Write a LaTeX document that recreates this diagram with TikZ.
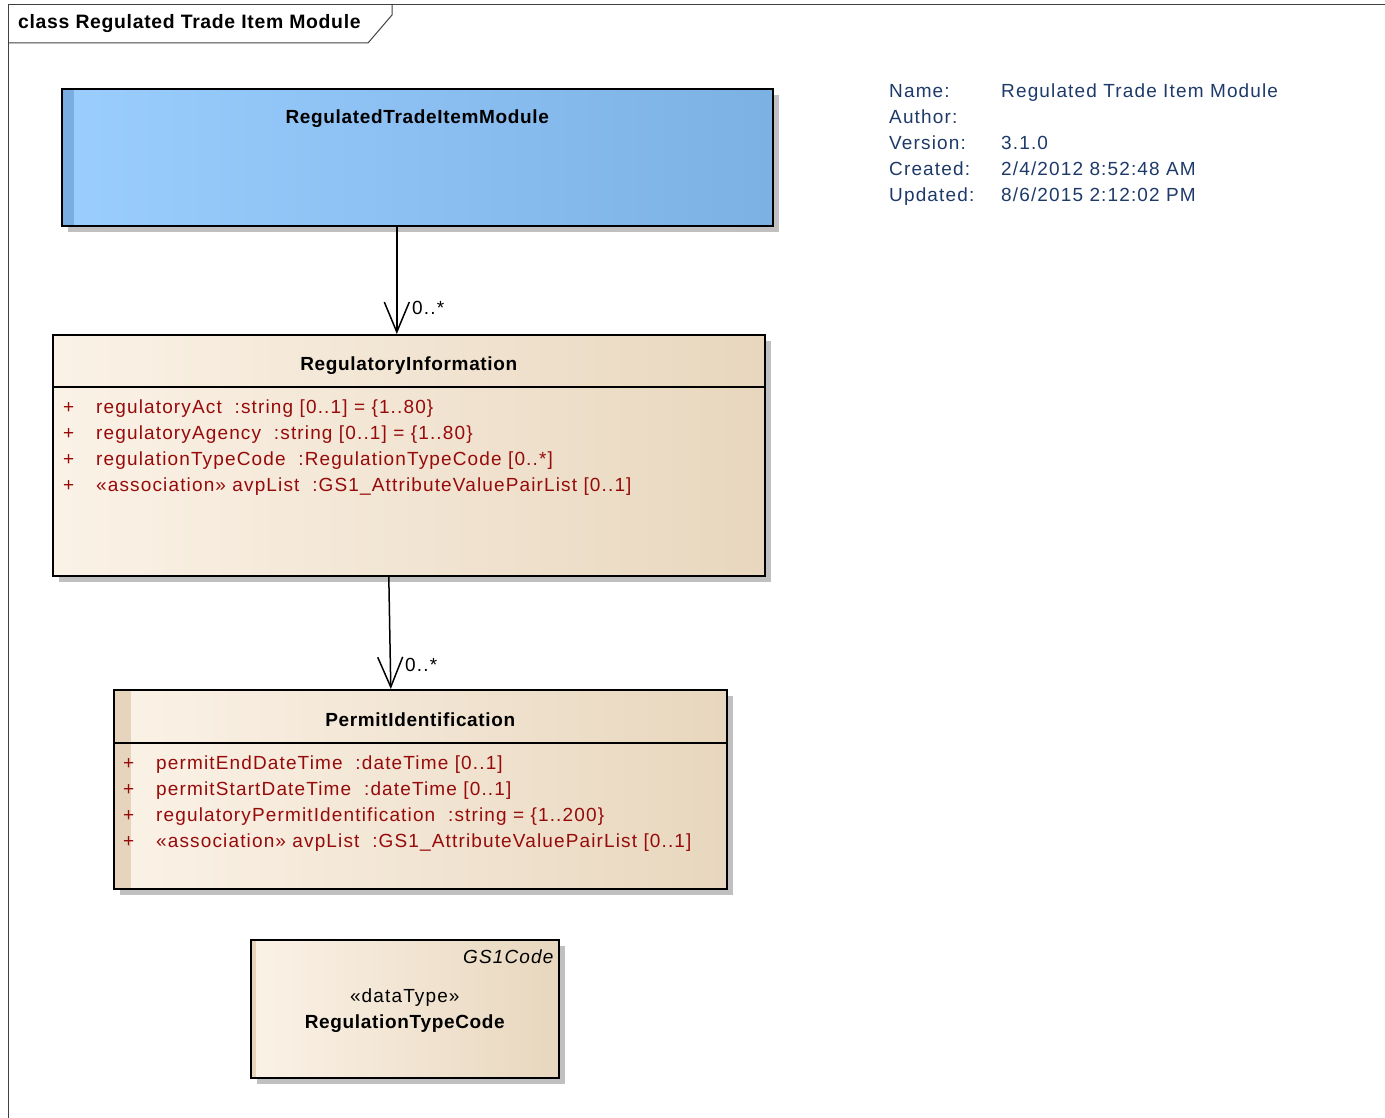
\documentclass[tikz,border=0pt]{standalone}
\usepackage{fontspec}
\setmainfont{Liberation Sans}[LetterSpace=6, BoldFeatures={LetterSpace=3.5}]
\usepackage{xcolor}
\usepackage{tikz}
\usetikzlibrary{arrows.meta, positioning, shadows}

\definecolor{beigeL}{RGB}{251,242,231}
\definecolor{beigeR}{RGB}{232,215,190}
\definecolor{beigeStripe}{RGB}{230,213,188}
\definecolor{blueL}{RGB}{155,206,255}
\definecolor{blueR}{RGB}{124,177,228}
\definecolor{blueStripe}{RGB}{122,174,226}
\definecolor{shadowgray}{RGB}{192,192,192}
\definecolor{attrred}{RGB}{150,10,10}
\definecolor{metablue}{RGB}{30,58,104}

\begin{document}
\begin{tikzpicture}[
    x=1pt, y=-1pt,
    font=\fontsize{19}{26}\selectfont,
    umlclass/.style={rectangle, draw=black, line width=1.6pt, inner sep=0pt, anchor=north west,
        drop shadow={shadow xshift=6pt, shadow yshift=-6pt, fill=shadowgray, opacity=1}},
    stripe/.style 2 args={path picture={\fill[#1] (path picture bounding box.north west) rectangle ([xshift=#2]path picture bounding box.south west);}},
    beigebox/.style={umlclass, left color=beigeL, right color=beigeR},
    modulebox/.style={umlclass, left color=blueL, right color=blueR, stripe={blueStripe}{12pt}},
    title/.style={font=\fontsize{19}{26}\selectfont\bfseries, anchor=base, inner sep=0pt},
    attr/.style={text=attrred, anchor=base west, inner sep=0pt},
    meta/.style={text=metablue, anchor=base west, inner sep=0pt},
    mult/.style={anchor=base west, inner sep=0pt},
    compart/.style={line width=1.6pt},
    assoc/.style={draw, line width=1.5pt, -{Straight Barb[length=30pt, width=25pt]}}
]
    \useasboundingbox (0,0) rectangle (1385,1118);

    % diagram frame
    \draw[black!75, line width=1pt] (8,1118) -- (8,5) -- (1385,5);
    \draw[black!75, line width=1pt] (392,5) -- (392,15) -- (368,43) -- (8,43);
    \node[title, anchor=base west, font=\fontsize{19.4}{26}\selectfont\bfseries] (frametitle) at (18,29) {class Regulated Trade Item Module};

    % classes
    \node[modulebox, minimum width=711pt, minimum height=137pt] (module) at (61,88) {};
    \node[title] (moduletitle) at ([yshift=-36pt]module.north) {RegulatedTradeItemModule};

    \node[beigebox, minimum width=712pt, minimum height=241pt] (reginfo) at (52,334) {};
    \node[title] (reginfotitle) at ([yshift=-36pt]reginfo.north) {RegulatoryInformation};
    \draw[compart] ([yshift=-53pt]reginfo.north west) -- ([yshift=-53pt]reginfo.north east);
    \foreach \txt [count=\i from 0] in {{regulatoryAct\ \ :string [0..1] = \{1..80\}},
        {regulatoryAgency\ \ :string [0..1] = \{1..80\}},
        {regulationTypeCode\ \ :RegulationTypeCode [0..*]},
        {«association» avpList\ \ :GS1\_AttributeValuePairList [0..1]}} {
        \node[attr] (riplus\i) at ([xshift=11pt, yshift={-79pt-26pt*\i}]reginfo.north west) {+};
        \node[attr] (riattr\i) at ([xshift=44pt, yshift={-79pt-26pt*\i}]reginfo.north west) {\txt};
    }

    \node[beigebox, stripe={beigeStripe}{17pt}, minimum width=613pt, minimum height=199pt] (permit) at (113,689) {};
    \node[title] (permittitle) at ([yshift=-37pt]permit.north) {PermitIdentification};
    \draw[compart] ([yshift=-54pt]permit.north west) -- ([yshift=-54pt]permit.north east);
    \foreach \txt [count=\i from 0] in {{permitEndDateTime\ \ :dateTime [0..1]},
        {permitStartDateTime\ \ :dateTime [0..1]},
        {regulatoryPermitIdentification\ \ :string = \{1..200\}},
        {«association» avpList\ \ :GS1\_AttributeValuePairList [0..1]}} {
        \node[attr] (piplus\i) at ([xshift=10pt, yshift={-80pt-26pt*\i}]permit.north west) {+};
        \node[attr] (piattr\i) at ([xshift=43pt, yshift={-80pt-26pt*\i}]permit.north west) {\txt};
    }

    \node[beigebox, stripe={beigeStripe}{5pt}, minimum width=308pt, minimum height=138pt] (regtype) at (250,939) {};
    \node[anchor=base east, inner sep=0pt, font=\fontsize{19}{26}\selectfont\itshape] (regtypepkg) at ([xshift=-6pt, yshift=-24pt]regtype.north east) {GS1Code};
    \node[anchor=base, inner sep=0pt] (regtypestereo) at ([yshift=-63pt]regtype.north) {«dataType»};
    \node[title] (regtypetitle) at ([yshift=-89pt]regtype.north) {RegulationTypeCode};

    % associations
    \draw[assoc] ([xshift=-20.5pt]module.south) -- ([xshift=-12pt]reginfo.north);
    \node[mult] (mult1) at (412,315) {0..*};
    \draw[assoc] ([xshift=-20pt]reginfo.south) -- ([xshift=-29.5pt]permit.north);
    \node[mult] (mult2) at (405,671) {0..*};

    % model info
    \node[meta] (namelbl) at (889,97.5) {Name:};
    \node[meta] (nameval) at (1001,97.5) {Regulated Trade Item Module};
    \node[meta] (authorlbl) at (889,123.5) {Author:};
    \node[meta] (versionlbl) at (889,149.5) {Version:};
    \node[meta] (versionval) at (1001,149.5) {3.1.0};
    \node[meta] (createdlbl) at (889,175.5) {Created:};
    \node[meta] (createdval) at (1001,175.5) {2/4/2012 8:52:48 AM};
    \node[meta] (updatedlbl) at (889,201.5) {Updated:};
    \node[meta] (updatedval) at (1001,201.5) {8/6/2015 2:12:02 PM};
\end{tikzpicture}
\end{document}
